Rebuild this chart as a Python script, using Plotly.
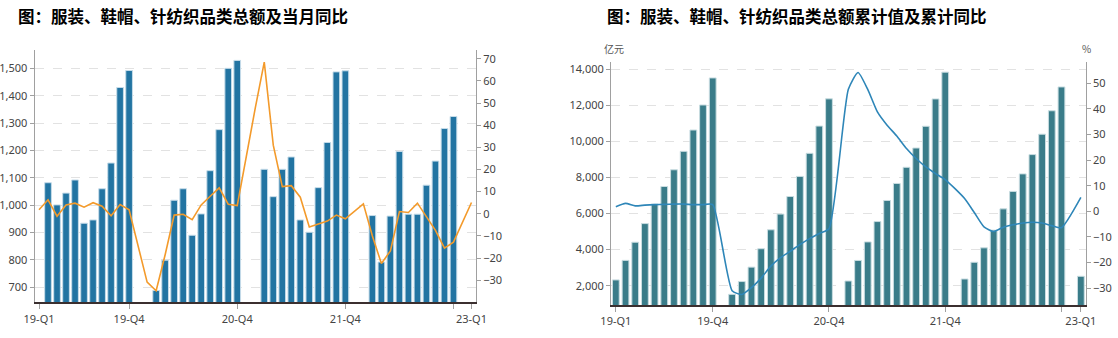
import pandas as pd
import plotly.graph_objects as go

# Monthly categories, Feb 2019 .. Feb 2023
months = [d.strftime("%Y-%m") for d in pd.date_range("2019-02-01", "2023-02-01", freq="MS")]

# Apparel, footwear, hats & textiles retail sales: monthly value (100M yuan)
monthly_value = [
    None, 1082, 1001, 1044, 1092, 934, 946, 1060, 1154, 1430, 1492,          # 2019-02..12
    None, None, 688, 799, 1018, 1060, 890, 968, 1126, 1276, 1500, 1529,      # 2020
    None, None, 1131, 1031, 1131, 1176, 946, 901, 1064, 1229, 1487, 1491,    # 2021
    None, None, 962, 792, 960, 1196, 967, 967, 1073, 1161, 1280, 1324,       # 2022
    None, None,                                                              # 2023-01..02
]

# Monthly YoY (%)
monthly_yoy = [
    1.8, 6.3, -1.1, 4.0, 4.8, 3.0, 5.0, 3.4, -0.9, 4.2, 1.8,
    None, -30.9, -34.8, -18.5, -0.6, -0.2, -2.7, 4.0, 7.9, 11.7, 4.3, 3.7,
    None, 47.7, 68.5, 31.0, 12.3, 12.7, 7.5, -6.0, -4.5, -3.3, -0.6, -2.3,
    None, 4.5, -10.0, -22.5, -16.8, 1.0, 0.6, 4.8, -1.5, -7.5, -15.5, -12.8,
    None, 5.1,
]

# Year-to-date cumulative value (100M yuan)
cum_value = [
    2320, 3405, 4411, 5444, 6522, 7500, 8428, 9450, 10633, 12020, 13520,
    None, 1522, 2230, 3030, 4050, 5100, 5970, 6944, 8060, 9340, 10850, 12360,
    None, 2261, 3400, 4428, 5556, 6725, 7670, 8565, 9635, 10840, 12356, 13840,
    None, 2372, 3300, 4100, 5080, 6260, 7230, 8200, 9270, 10400, 11700, 13020,
    None, 2522,
]

# Year-to-date cumulative YoY (%)
cum_yoy = [
    1.8, 3.1, 2.1, 2.4, 2.6, 2.7, 2.8, 2.8, 2.6, 2.6, 2.6,
    None, -31.0, -32.5, -29.8, -26.1, -21.4, -18.1, -15.6, -13.0, -10.7, -8.7, -6.8,
    None, 47.6, 54.2, 47.6, 38.8, 33.6, 29.4, 24.5, 20.6, 17.3, 14.7, 12.4,
    None, 5.0, -0.5, -6.1, -7.9, -6.2, -5.3, -4.6, -4.3, -4.6, -5.6, -6.4,
    None, 5.4,
]

tick_months = ["2019-02", "2019-12", "2020-12", "2021-12", "2022-12", "2023-02"]
tick_labels = ["19-Q1", "19-Q4", "20-Q4", "21-Q4", "", "23-Q1"]

W, H = 1118, 338
TICK_FONT = dict(family="Noto Sans", size=11, color="#444444")
AXIS_GREY = "#a0a0a0"

fig = go.Figure()

fig.add_trace(go.Bar(
    x=months, y=monthly_value, xaxis="x", yaxis="y", width=0.74,
    marker=dict(color="#2274a2", line=dict(color="#c6dce9", width=1)),
    name="当月值",
))
fig.add_trace(go.Scatter(
    x=months, y=monthly_yoy, xaxis="x", yaxis="y2", mode="lines",
    connectgaps=True, line=dict(color="#f39a2b", width=1.6), name="当月同比",
))
fig.add_trace(go.Bar(
    x=months, y=cum_value, xaxis="x2", yaxis="y3", width=0.7,
    marker=dict(color="#3a7c89", line=dict(color="#c9dde1", width=1)),
    name="累计值",
))
fig.add_trace(go.Scatter(
    x=months, y=cum_yoy, xaxis="x2", yaxis="y4", mode="lines",
    connectgaps=True, line=dict(color="#2e86b8", width=1.6, shape="spline", smoothing=0.55),
    name="累计同比",
))


def px_x(v):
    return v / W


def px_y(v):
    return 1 - v / H


x_common = dict(
    type="category", categoryorder="array", categoryarray=months,
    range=[-0.5, len(months) - 0.5],
    tickmode="array", tickvals=tick_months, ticktext=tick_labels,
    ticks="outside", ticklen=5, tickcolor=AXIS_GREY, tickfont=TICK_FONT,
    showline=True, linecolor="#3b2f2f", linewidth=2,
    showgrid=False, zeroline=False, fixedrange=True,
)
yl_common = dict(
    showline=True, linecolor=AXIS_GREY, linewidth=1,
    ticks="outside", ticklen=4, tickcolor=AXIS_GREY, tickfont=TICK_FONT,
    showgrid=True, gridcolor="#e2e2e2", griddash="dash", gridwidth=1,
    zeroline=False, tickformat=",",
)
yr_common = dict(
    side="right", showline=True, linecolor=AXIS_GREY, linewidth=1,
    ticks="outside", ticklen=4, tickcolor=AXIS_GREY, tickfont=TICK_FONT,
    showgrid=False, zeroline=False,
)

fig.update_layout(
    width=W, height=H,
    margin=dict(l=0, r=0, t=0, b=0, autoexpand=False),
    paper_bgcolor="white", plot_bgcolor="white",
    showlegend=False,
    xaxis=dict(domain=[px_x(34.5), px_x(476)], anchor="y", **x_common),
    yaxis=dict(domain=[px_y(302.3), px_y(50)], anchor="x",
               range=[645, 1567], tickvals=list(range(700, 1501, 100)), **yl_common),
    yaxis2=dict(overlaying="y", anchor="x", range=[-40, 74],
                tickvals=list(range(-30, 71, 10)), **yr_common),
    xaxis2=dict(domain=[px_x(611), px_x(1085.7)], anchor="y3", **x_common),
    yaxis3=dict(domain=[px_y(305), px_y(61.7)], anchor="x2",
                range=[930, 14420], tickvals=list(range(2000, 14001, 2000)), **yl_common),
    yaxis4=dict(overlaying="y3", anchor="x2", range=[-36.6, 58.4],
                tickvals=list(range(-30, 51, 10)), **yr_common),
)

title_font = dict(family="Noto Sans CJK SC", size=16.5, color="#000000", weight="bold")
fig.add_annotation(text="图：服装、鞋帽、针纺织品类总额及当月同比", xref="paper", yref="paper",
                   x=px_x(16), y=px_y(16), xanchor="left", yanchor="middle",
                   showarrow=False, font=title_font)
fig.add_annotation(text="图：服装、鞋帽、针纺织品类总额累计值及累计同比", xref="paper", yref="paper",
                   x=px_x(605), y=px_y(16), xanchor="left", yanchor="middle",
                   showarrow=False, font=title_font)

unit_font = dict(family="Noto Sans CJK SC", size=10, color="#555555")
fig.add_annotation(text="亿元", xref="paper", yref="paper", x=px_x(602), y=px_y(48),
                   xanchor="left", yanchor="middle", showarrow=False, font=unit_font)
fig.add_annotation(text="%", xref="paper", yref="paper", x=px_x(1086), y=px_y(48),
                   xanchor="center", yanchor="middle", showarrow=False, font=unit_font)

fig.write_html("out.html", config={"displayModeBar": False})
